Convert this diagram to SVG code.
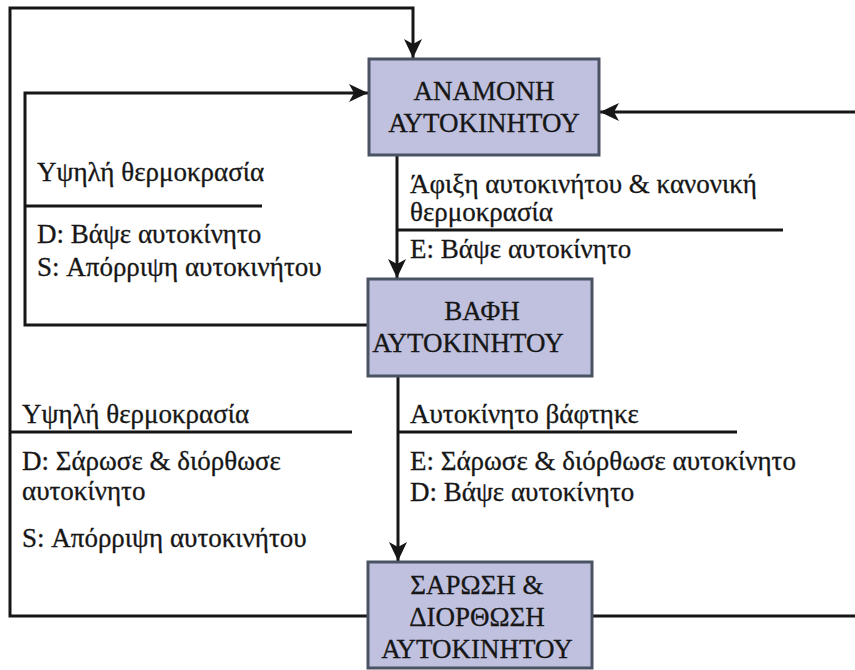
<svg xmlns="http://www.w3.org/2000/svg" width="855" height="670" viewBox="0 0 855 670">
  <defs>
    <marker id="arrow" markerUnits="userSpaceOnUse" markerWidth="20" markerHeight="18" refX="19" refY="9" orient="auto">
      <path d="M0,0 L19,9 L0,18 L5,9 Z" fill="#161616"/>
    </marker>
    <style>
      .state { fill: #c0c1df; stroke: #4a5364; stroke-width: 3; }
      .state-text { font-size: 27px; fill: #161616; stroke: #161616; stroke-width: 0.3; text-anchor: middle; }
      .conn { fill: none; stroke: #161616; stroke-width: 3; }
      .sep { fill: none; stroke: #161616; stroke-width: 3; }
      .label { font-size: 27px; fill: #161616; stroke: #161616; stroke-width: 0.3; }
    </style>
  </defs>
  <rect width="855" height="670" fill="#ffffff"/>

  <!-- connectors between states -->
  <g id="connectors">
    <!-- scan & repair back to waiting (outer loop over the top) -->
    <path class="conn" d="M368,616 H10 V8 H413 V58" marker-end="url(#arrow)"/>
    <!-- painting back to waiting (inner loop) -->
    <path class="conn" d="M368,325 H25 V93 H368" marker-end="url(#arrow)"/>
    <!-- scan & repair back to waiting (right side) -->
    <path class="conn" d="M592,616 H860 V112 H600" marker-end="url(#arrow)"/>
    <!-- waiting to painting -->
    <path class="conn" d="M397,155 V278" marker-end="url(#arrow)"/>
    <!-- painting to scan & repair -->
    <path class="conn" d="M398,376 V561" marker-end="url(#arrow)"/>
  </g>

  <!-- transition labels: event above the rule, actions below -->
  <g id="labels" font-family="'Liberation Serif', 'Times New Roman', serif">
    <g id="label-high-temp-1">
      <text class="label" x="37" y="181">Υψηλή θερμοκρασία</text>
      <path class="sep" d="M25,206 H262"/>
      <text class="label" x="37" y="243">D: Βάψε αυτοκίνητο</text>
      <text class="label" x="37" y="276">S: Απόρριψη αυτοκινήτου</text>
    </g>
    <g id="label-arrival">
      <text class="label" x="410" y="193">Άφιξη αυτοκινήτου &amp; κανονική</text>
      <text class="label" x="410" y="221">θερμοκρασία</text>
      <path class="sep" d="M397,230 H783"/>
      <text class="label" x="410" y="258">E: Βάψε αυτοκίνητο</text>
    </g>
    <g id="label-high-temp-2">
      <text class="label" x="22" y="423">Υψηλή θερμοκρασία</text>
      <path class="sep" d="M10,432 H352"/>
      <text class="label" x="22" y="470">D: Σάρωσε &amp; διόρθωσε</text>
      <text class="label" x="22" y="500">αυτοκίνητο</text>
      <text class="label" x="22" y="547">S: Απόρριψη αυτοκινήτου</text>
    </g>
    <g id="label-painted">
      <text class="label" x="410" y="423">Αυτοκίνητο βάφτηκε</text>
      <path class="sep" d="M397,432 H737"/>
      <text class="label" x="410" y="470">E: Σάρωσε &amp; διόρθωσε αυτοκίνητο</text>
      <text class="label" x="410" y="501">D: Βάψε αυτοκίνητο</text>
    </g>
  </g>

  <!-- states -->
  <g font-family="'Liberation Serif', 'Times New Roman', serif">
    <g id="state-waiting">
      <rect class="state" x="369" y="59" width="230" height="96"/>
      <text class="state-text" x="484" y="100">ΑΝΑΜΟΝΗ</text>
      <text class="state-text" x="484" y="132">ΑΥΤΟΚΙΝΗΤΟΥ</text>
    </g>
    <g id="state-painting">
      <rect class="state" x="368" y="279" width="224" height="97"/>
      <text class="state-text" x="482" y="320">ΒΑΦΗ</text>
      <text class="state-text" x="468" y="352">ΑΥΤΟΚΙΝΗΤΟΥ</text>
    </g>
    <g id="state-scan-repair">
      <rect class="state" x="368" y="562" width="224" height="106"/>
      <text class="state-text" x="477" y="594">ΣΑΡΩΣΗ &amp;</text>
      <text class="state-text" x="477" y="626">ΔΙΟΡΘΩΣΗ</text>
      <text class="state-text" x="477" y="658">ΑΥΤΟΚΙΝΗΤΟΥ</text>
    </g>
  </g>
</svg>
